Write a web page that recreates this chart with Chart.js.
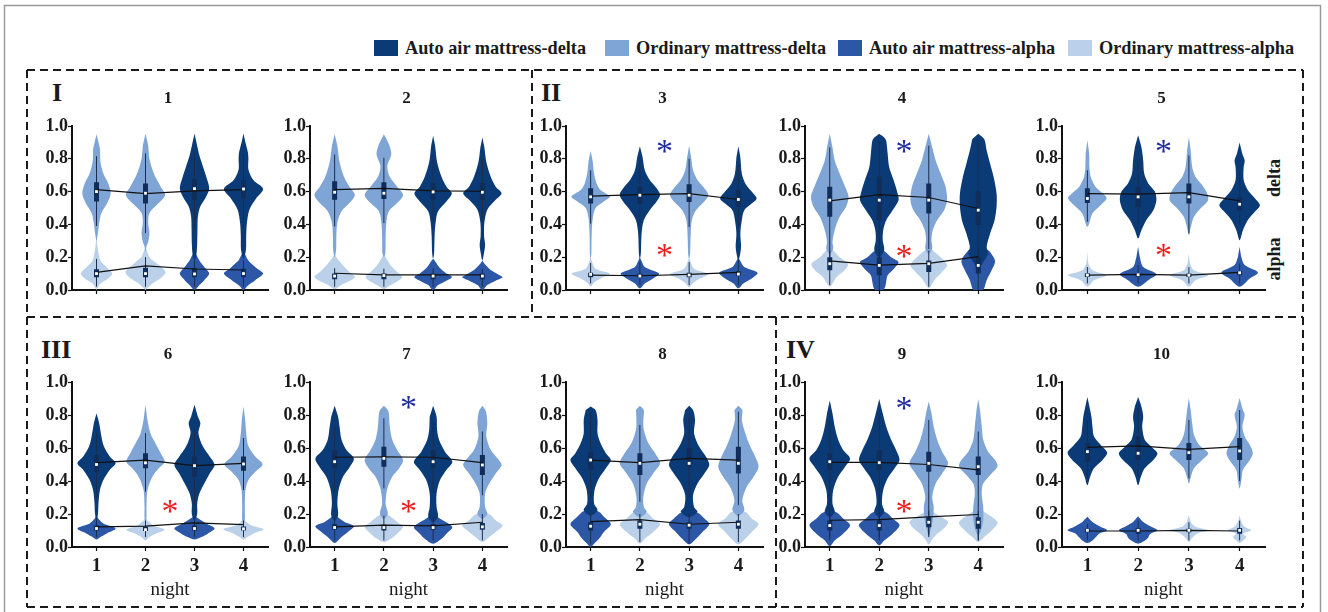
<!DOCTYPE html>
<html><head><meta charset="utf-8">
<script src="https://cdn.jsdelivr.net/npm/chart.js@4.4.1/dist/chart.umd.min.js"></script>
<style>
html,body{margin:0;padding:0;background:#fff;}
body{width:1328px;height:612px;overflow:hidden;position:relative;font-family:'Liberation Serif','Times New Roman',serif;color:#1a1a1a;}
.abs{position:absolute;}
.lg{position:absolute;top:40px;height:16px;display:flex;align-items:center;font-weight:bold;font-size:18.3px;white-space:nowrap;}
.sw{display:inline-block;width:24px;height:16px;margin-right:7px;flex:none;}
.rn{position:absolute;font-weight:bold;font-size:26px;line-height:26px;}
.side{position:absolute;font-weight:bold;font-size:18px;line-height:18px;transform:translate(-50%,-50%) rotate(-90deg);}
</style></head>
<body>
<svg class="abs" style="left:0;top:0" width="1328" height="612">
  <rect x="4.5" y="5.5" width="1316" height="700" fill="none" stroke="#9a9a9a" stroke-width="1.5"/>
  <g stroke="#1a1a1a" stroke-width="2" stroke-dasharray="8 5" fill="none">
    <line x1="27" y1="70" x2="1303" y2="70"/>
    <line x1="27" y1="70" x2="27" y2="607"/>
    <line x1="1303" y1="70" x2="1303" y2="607"/>
    <line x1="27" y1="607" x2="1303" y2="607"/>
    <line x1="27" y1="317" x2="1303" y2="317"/>
    <line x1="532" y1="70" x2="532" y2="317"/>
    <line x1="776" y1="317" x2="776" y2="607"/>
  </g>
</svg>
<script>
// ---------------- DATA ----------------
const nights = [1, 2, 3, 4];
const panelTitles = ['1','2','3','4','5','6','7','8','9','10'];
const groupLabels = ['I','II','III','IV'];
const sideLabels = ['delta','alpha'];
const legendLabels = ['Auto air mattress-delta','Ordinary mattress-delta','Auto air mattress-alpha','Ordinary mattress-alpha'];
const yTicks = [0, 0.2, 0.4, 0.6, 0.8, 1.0];
// A = auto air mattress, O = ordinary mattress, per night
const mattressOrder = ['OOAA','OOAA','OAOA','OAOA','OAOA','AOAO','AOAO','AOAO','AAOO','AAOO'];

const meanDelta = [
  [.612,.588,.605,.612],[.612,.62,.604,.602],[.572,.582,.588,.552],[.544,.582,.564,.497],[.588,.584,.594,.544],
  [.511,.527,.493,.507],[.544,.546,.544,.511],[.527,.511,.537,.527],[.513,.513,.50,.467],[.604,.613,.592,.608]
];
const meanAlpha = [
  [.108,.147,.128,.122],[.102,.092,.092,.092],[.091,.087,.095,.107],[.178,.152,.162,.203],[.091,.095,.091,.107],
  [.122,.126,.146,.136],[.122,.132,.128,.15],[.154,.166,.138,.15],[.162,.166,.183,.197],[.097,.097,.101,.097]
];
// [whisker low, q1, median, q3, whisker high]
const boxDelta = [
  [[.39,.54,.60,.657,.816],[.347,.527,.59,.649,.833],[.37,.551,.618,.678,.83],[.38,.561,.616,.669,.83]],
  [[.388,.551,.596,.663,.826],[.408,.555,.59,.657,.806],[.41,.551,.598,.653,.80],[.41,.551,.596,.653,.80]],
  [[.405,.527,.568,.62,.73],[.385,.527,.578,.63,.79],[.385,.537,.578,.645,.80],[.39,.507,.552,.608,.76]],
  [[.18,.446,.548,.63,.87],[.1,.426,.548,.69,.91],[.25,.467,.548,.65,.88],[.1,.396,.487,.6,.93]],
  [[.416,.53,.558,.62,.73],[.40,.507,.568,.63,.80],[.345,.527,.568,.65,.82],[.40,.487,.523,.568,.72]],
  [[.3,.456,.5,.558,.69],[.335,.477,.51,.568,.69],[.25,.426,.493,.548,.71],[.345,.462,.503,.548,.66]],
  [[.33,.477,.517,.588,.73],[.355,.487,.537,.608,.78],[.33,.477,.517,.588,.75],[.314,.436,.497,.558,.70]],
  [[.3,.467,.527,.578,.82],[.274,.436,.507,.568,.74],[.3,.487,.507,.598,.8],[.254,.446,.507,.608,.82]],
  [[.06,.467,.517,.568,.77],[.06,.467,.511,.588,.80],[.07,.456,.507,.578,.77],[.04,.436,.487,.548,.70]],
  [[.426,.517,.578,.63,.77],[.43,.527,.568,.67,.85],[.416,.527,.572,.63,.77],[.40,.527,.582,.66,.83]]
];
const boxAlpha = [
  [[.02,.078,.10,.127,.19],[.02,.078,.10,.135,.2],[.02,.078,.098,.133,.18],[.02,.078,.10,.13,.18]],
  [[.02,.065,.085,.10,.133],[.02,.065,.088,.10,.13],[.02,.065,.085,.10,.13],[.02,.065,.085,.10,.13]],
  [[.04,.077,.095,.105,.165],[.03,.075,.085,.10,.17],[.03,.077,.091,.105,.17],[.03,.085,.097,.115,.18]],
  [[.03,.12,.16,.2,.24],[.0,.09,.15,.2,.24],[.02,.11,.16,.18,.24],[.0,.1,.15,.2,.25]],
  [[.04,.08,.091,.102,.14],[.04,.08,.093,.10,.15],[.04,.08,.09,.10,.14],[.04,.09,.105,.115,.16]],
  [[.06,.10,.112,.13,.17],[.06,.097,.105,.122,.16],[.06,.10,.112,.13,.17],[.06,.10,.11,.125,.16]],
  [[.04,.105,.118,.14,.18],[.04,.1,.118,.135,.19],[.04,.105,.118,.14,.18],[.04,.105,.122,.145,.2]],
  [[.02,.1,.126,.15,.2],[.03,.11,.138,.16,.2],[.02,.11,.132,.15,.2],[.03,.11,.138,.16,.2]],
  [[.04,.1,.13,.16,.2],[.04,.1,.13,.16,.2],[.06,.12,.15,.18,.22],[.04,.11,.15,.18,.22]],
  [[.04,.09,.101,.11,.14],[.04,.08,.101,.115,.16],[.04,.09,.101,.11,.15],[.04,.08,.101,.115,.16]]
];
// violin outlines: [value, half-width in night units], top to bottom
const violinDelta = [
 [
  [[.95,0],[.86,.07],[.78,.08],[.71,.14],[.65,.24],[.59,.29],[.53,.22],[.47,.10],[.41,.055],[.35,.03],[.30,0]],
  [[.955,0],[.88,.055],[.80,.08],[.71,.17],[.63,.31],[.58,.40],[.53,.27],[.47,.08],[.41,.055],[.35,.08],[.30,.06],[.265,.02],[.235,0]],
  [[.955,0],[.9,.04],[.82,.1],[.755,.17],[.69,.24],[.62,.30],[.57,.24],[.51,.12],[.45,.07],[.37,.06],[.285,.055],[.22,.04],[.18,0]],
  [[.955,0],[.9,.04],[.84,.09],[.8,.1],[.735,.1],[.67,.2],[.616,.4],[.56,.26],[.49,.12],[.41,.07],[.33,.055],[.245,.05],[.19,0]]
 ],
 [
  [[.95,0],[.88,.055],[.78,.1],[.69,.19],[.63,.3],[.58,.41],[.53,.3],[.48,.14],[.41,.055],[.33,.035],[.245,.03],[.2,0]],
  [[.95,0],[.89,.1],[.83,.15],[.755,.07],[.69,.12],[.63,.27],[.58,.39],[.53,.27],[.48,.1],[.41,.05],[.31,.035],[.225,.03],[.2,0]],
  [[.94,0],[.88,.04],[.78,.08],[.69,.17],[.63,.27],[.59,.38],[.54,.27],[.48,.1],[.41,.05],[.33,.03],[.225,.02],[.19,0]],
  [[.93,0],[.87,.04],[.78,.08],[.69,.17],[.63,.27],[.59,.39],[.55,.27],[.49,.1],[.41,.04],[.33,.035],[.275,.055],[.22,.03],[.18,0]]
 ],
 [
  [[.848,0],[.79,.04],[.71,.07],[.65,.12],[.61,.2],[.57,.39],[.54,.27],[.5,.1],[.43,.04],[.325,.02],[.223,.015],[.19,0]],
  [[.876,0],[.81,.055],[.73,.1],[.67,.2],[.62,.34],[.58,.41],[.54,.34],[.487,.2],[.426,.08],[.345,.035],[.223,.02],[.19,0]],
  [[.88,0],[.81,.04],[.73,.08],[.67,.17],[.62,.31],[.58,.39],[.54,.31],[.487,.14],[.426,.055],[.325,.03],[.223,.02],[.19,0]],
  [[.876,0],[.81,.04],[.71,.07],[.65,.14],[.6,.27],[.558,.37],[.527,.27],[.487,.12],[.426,.07],[.345,.04],[.264,.055],[.21,.03],[.18,0]]
 ],
 [
  [[.953,0],[.87,.055],[.79,.1],[.71,.2],[.63,.31],[.57,.38],[.507,.33],[.446,.2],[.365,.1],[.294,.055],[.253,.07],[.22,0]],
  [[.953,0],[.93,.1],[.91,.14],[.83,.17],[.75,.2],[.67,.29],[.59,.37],[.548,.39],[.487,.27],[.426,.14],[.365,.08],[.304,.07],[.243,.1],[.2,0]],
  [[.953,0],[.87,.07],[.79,.14],[.71,.24],[.63,.34],[.548,.37],[.487,.31],[.426,.17],[.365,.08],[.304,.055],[.253,.07],[.22,0]],
  [[.953,0],[.92,.12],[.85,.17],[.77,.24],[.69,.31],[.59,.37],[.507,.37],[.426,.33],[.345,.24],[.264,.17],[.223,.2],[.17,.1],[.12,0]]
 ],
 [
  [[.913,0],[.83,.035],[.75,.04],[.69,.065],[.63,.16],[.59,.3],[.56,.38],[.517,.26],[.467,.1],[.406,.035],[.385,0]],
  [[.943,0],[.87,.065],[.79,.1],[.71,.12],[.65,.2],[.6,.33],[.548,.36],[.487,.3],[.426,.16],[.365,.065],[.314,0]],
  [[.933,0],[.85,.035],[.75,.065],[.69,.13],[.64,.26],[.59,.36],[.548,.38],[.507,.26],[.446,.1],[.385,.04],[.335,0]],
  [[.9,0],[.83,.055],[.79,.1],[.75,.08],[.67,.08],[.61,.16],[.56,.3],[.517,.4],[.477,.3],[.426,.16],[.365,.065],[.304,0]]
 ],
 [
  [[.81,0],[.75,.055],[.67,.1],[.61,.15],[.548,.27],[.507,.39],[.467,.27],[.406,.14],[.345,.07],[.264,.04],[.2,.03],[.16,0]],
  [[.862,0],[.77,.04],[.69,.1],[.63,.2],[.568,.31],[.517,.39],[.477,.27],[.426,.14],[.345,.04],[.243,.02],[.18,.02],[.15,0]],
  [[.862,0],[.79,.07],[.75,.12],[.69,.08],[.61,.17],[.548,.31],[.497,.41],[.446,.31],[.385,.2],[.325,.1],[.264,.055],[.2,.055],[.16,0]],
  [[.852,0],[.77,.035],[.69,.055],[.61,.1],[.548,.24],[.5,.39],[.456,.24],[.406,.1],[.345,.04],[.243,.027],[.162,.027],[.14,0]]
 ],
 [
  [[.856,0],[.79,.07],[.73,.1],[.65,.14],[.588,.24],[.537,.39],[.487,.31],[.426,.17],[.345,.08],[.264,.055],[.193,.07],[.16,0]],
  [[.856,0],[.83,.08],[.81,.1],[.73,.12],[.65,.17],[.588,.27],[.527,.39],[.477,.31],[.426,.17],[.355,.07],[.264,.035],[.2,.08],[.17,0]],
  [[.856,0],[.79,.07],[.71,.08],[.65,.12],[.578,.24],[.517,.39],[.467,.27],[.406,.14],[.325,.07],[.243,.07],[.183,.1],[.15,0]],
  [[.856,0],[.83,.06],[.81,.08],[.75,.1],[.67,.08],[.588,.17],[.537,.31],[.497,.39],[.446,.27],[.385,.14],[.325,.055],[.243,.055],[.2,.1],[.17,0]]
 ],
 [
  [[.852,0],[.83,.1],[.77,.14],[.69,.14],[.63,.2],[.568,.31],[.527,.41],[.477,.31],[.416,.17],[.345,.08],[.264,.07],[.223,.14],[.19,0]],
  [[.856,0],[.83,.08],[.77,.07],[.71,.08],[.63,.17],[.568,.31],[.507,.41],[.446,.27],[.385,.14],[.304,.07],[.243,.08],[.213,.14],[.18,0]],
  [[.856,0],[.83,.08],[.77,.12],[.69,.1],[.61,.2],[.548,.34],[.497,.41],[.446,.31],[.385,.17],[.314,.08],[.243,.1],[.213,.17],[.18,0]],
  [[.856,0],[.83,.08],[.77,.07],[.69,.14],[.61,.24],[.548,.34],[.487,.41],[.426,.31],[.365,.17],[.284,.08],[.223,.12],[.19,0]]
 ],
 [
  [[.888,0],[.81,.055],[.73,.1],[.65,.17],[.588,.27],[.537,.41],[.487,.31],[.426,.17],[.345,.07],[.264,.055],[.213,.1],[.18,0]],
  [[.897,0],[.81,.07],[.73,.14],[.65,.24],[.588,.34],[.527,.41],[.477,.31],[.416,.17],[.345,.08],[.264,.055],[.213,.1],[.18,0]],
  [[.882,0],[.81,.055],[.73,.1],[.65,.17],[.578,.27],[.507,.39],[.446,.27],[.385,.14],[.304,.07],[.243,.1],[.162,.08],[.1,.035],[.07,0]],
  [[.897,0],[.83,.035],[.73,.07],[.65,.1],[.578,.2],[.527,.34],[.49,.39],[.446,.27],[.385,.1],[.325,.07],[.243,.1],[.162,.1],[.1,.055],[.07,0]]
 ],
 [
  [[.909,0],[.852,.04],[.79,.08],[.73,.1],[.67,.13],[.62,.26],[.572,.39],[.527,.3],[.477,.13],[.426,.055],[.375,0]],
  [[.909,0],[.852,.065],[.79,.1],[.73,.08],[.65,.13],[.608,.26],[.568,.38],[.527,.3],[.477,.13],[.426,.055],[.375,0]],
  [[.903,0],[.83,.035],[.75,.065],[.68,.1],[.62,.2],[.568,.38],[.527,.26],[.477,.1],[.426,.04],[.385,0]],
  [[.903,0],[.83,.065],[.8,.1],[.73,.055],[.67,.1],[.62,.2],[.568,.26],[.527,.2],[.467,.065],[.406,.035],[.355,0]]
 ]
];
const violinAlpha = [
 [
  [[.32,0],[.245,.03],[.18,.08],[.14,.2],[.10,.32],[.07,.24],[.04,.08],[.01,.02],[0,0]],
  [[.265,0],[.2,.08],[.16,.24],[.11,.41],[.07,.3],[.04,.14],[.01,.03],[0,0]],
  [[.24,0],[.18,.1],[.14,.2],[.10,.30],[.06,.2],[.03,.1],[0,0]],
  [[.24,0],[.18,.1],[.133,.27],[.10,.40],[.06,.24],[.025,.08],[0,0]]
 ],
 [
  [[.22,0],[.2,.035],[.15,.17],[.11,.3],[.08,.41],[.05,.27],[.025,.1],[.005,0]],
  [[.22,0],[.2,.035],[.15,.14],[.11,.27],[.08,.37],[.05,.26],[.02,.08],[.005,0]],
  [[.19,0],[.18,.03],[.14,.12],[.1,.27],[.08,.38],[.057,.27],[.03,.1],[0,0]],
  [[.18,0],[.163,.035],[.122,.17],[.092,.34],[.078,.41],[.057,.27],[.03,.1],[0,0]]
 ],
 [
  [[.2,0],[.18,.02],[.13,.1],[.1,.39],[.07,.2],[.045,.07],[.02,0]],
  [[.2,0],[.18,.03],[.14,.1],[.1,.39],[.07,.27],[.04,.1],[.01,0]],
  [[.2,0],[.18,.02],[.13,.1],[.097,.39],[.067,.2],[.04,.07],[.015,0]],
  [[.2,0],[.18,.035],[.14,.12],[.105,.39],[.07,.27],[.04,.1],[.01,0]]
 ],
 [
  [[.26,0],[.243,.07],[.2,.2],[.16,.37],[.12,.3],[.08,.14],[.04,.055],[.02,0]],
  [[.25,0],[.233,.12],[.2,.24],[.17,.39],[.13,.3],[.09,.17],[.05,.14],[.02,.12],[0,.08],[0,0]],
  [[.26,0],[.243,.08],[.2,.24],[.152,.37],[.11,.27],[.07,.14],[.03,.055],[.01,0]],
  [[.26,0],[.243,.2],[.2,.31],[.17,.34],[.12,.27],[.06,.17],[0,.1],[0,0]]
 ],
 [
  [[.233,0],[.162,.02],[.12,.1],[.09,.38],[.06,.13],[.02,0]],
  [[.264,0],[.2,.035],[.14,.1],[.097,.36],[.06,.2],[.02,0]],
  [[.223,0],[.162,.025],[.12,.1],[.09,.38],[.06,.13],[.02,0]],
  [[.264,0],[.2,.035],[.152,.1],[.107,.36],[.07,.2],[.02,0]]
 ],
 [
  [[.19,0],[.172,.035],[.142,.14],[.112,.39],[.081,.2],[.06,.08],[.045,0]],
  [[.18,0],[.162,.035],[.13,.17],[.105,.39],[.081,.2],[.06,.08],[.04,0]],
  [[.19,0],[.172,.08],[.142,.24],[.112,.41],[.081,.27],[.06,.14],[.045,0]],
  [[.17,0],[.152,.055],[.13,.17],[.107,.41],[.081,.2],[.06,.08],[.045,0]]
 ],
 [
  [[.2,0],[.172,.1],[.152,.2],[.126,.39],[.091,.27],[.06,.14],[.04,.07],[.024,0]],
  [[.21,0],[.183,.14],[.152,.27],[.122,.39],[.081,.27],[.05,.14],[.03,0]],
  [[.2,0],[.166,.17],[.142,.31],[.118,.39],[.081,.27],[.05,.17],[.02,0]],
  [[.22,0],[.193,.17],[.162,.27],[.13,.41],[.091,.27],[.06,.14],[.03,0]]
 ],
 [
  [[.23,0],[.213,.17],[.183,.27],[.138,.41],[.091,.27],[.05,.17],[.02,.07],[0,0]],
  [[.23,0],[.203,.17],[.172,.27],[.138,.41],[.091,.27],[.05,.1],[.02,0]],
  [[.23,0],[.203,.2],[.172,.31],[.138,.41],[.091,.27],[.05,.14],[.016,0]],
  [[.23,0],[.207,.17],[.172,.27],[.138,.41],[.091,.27],[.05,.14],[.016,0]]
 ],
 [
  [[.23,0],[.203,.17],[.172,.27],[.132,.41],[.081,.27],[.04,.1],[.005,0]],
  [[.23,0],[.203,.17],[.172,.27],[.132,.41],[.081,.27],[.04,.1],[.01,0]],
  [[.23,0],[.213,.08],[.183,.24],[.152,.39],[.112,.3],[.071,.14],[.04,.055],[.015,0]],
  [[.24,0],[.223,.07],[.183,.27],[.146,.39],[.1,.27],[.06,.12],[.03,0]]
 ],
 [
  [[.183,0],[.152,.1],[.122,.26],[.101,.39],[.081,.23],[.061,.17],[.04,.1],[.024,0]],
  [[.187,0],[.152,.1],[.122,.26],[.101,.38],[.077,.23],[.057,.2],[.036,.12],[.02,0]],
  [[.193,0],[.152,.04],[.122,.13],[.101,.38],[.081,.16],[.05,.05],[.03,0]],
  [[.193,0],[.152,.035],[.122,.1],[.101,.23],[.081,.07],[.061,.13],[.04,.065],[.024,0]]
 ]
];
// significance asterisks (value on y axis, drawn between nights 2 and 3)
const starX = 2.5;
const starBlue = [null,null,.877,.877,.877,null,.88,null,.875,null];
const starRed  = [null,null,.245,.24,.245,.25,.25,null,.25,null];

// ---------------- STYLE / LAYOUT ----------------
const COL = {Ad:'#0b3b76', Od:'#7fa4d6', Aa:'#2b57a6', Oa:'#bad1e9'};
const legendColors = [COL.Ad, COL.Od, COL.Aa, COL.Oa];
const SERIF = "'Liberation Serif','Times New Roman',serif";
const colLeft = [72, 310, 566, 805, 1062];
const colWidth = [196, 197, 197, 198, 203];
const rowTop = [126, 382];
const rowH = [164, 165];

// legend
const legendX = [374, 605, 838, 1068];
legendLabels.forEach((t, i) => {
  const d = document.createElement('div');
  d.className = 'lg'; d.style.left = legendX[i] + 'px';
  d.innerHTML = '<span class="sw" style="background:' + legendColors[i] + '"></span>';
  d.appendChild(document.createTextNode(t));
  document.body.appendChild(d);
});
// group numerals
const groupPos = [[52, 80], [541, 80], [41, 337], [786, 337]];
groupLabels.forEach((t, i) => {
  const d = document.createElement('div');
  d.className = 'rn'; d.textContent = t;
  d.style.left = groupPos[i][0] + 'px'; d.style.top = groupPos[i][1] + 'px';
  document.body.appendChild(d);
});
// delta / alpha side labels
const sidePos = [[1274, 178], [1274, 259]];
sideLabels.forEach((t, i) => {
  const d = document.createElement('div');
  d.className = 'side'; d.textContent = t;
  d.style.left = sidePos[i][0] + 'px'; d.style.top = sidePos[i][1] + 'px';
  document.body.appendChild(d);
});

function violinPoints(center, prof) {
  const right = prof.map(([y, w]) => ({x: center + w, y}));
  const left = prof.slice(1, -1).reverse().map(([y, w]) => ({x: center - w, y}));
  return right.concat(left);
}
function segPoints(boxes, a, b) {
  const pts = [];
  boxes.forEach((bx, i) => {
    pts.push({x: nights[i], y: bx[a]}, {x: nights[i], y: bx[b]}, {x: nights[i], y: null});
  });
  return pts;
}

const decor = {
  id: 'decor',
  afterDraw(chart) {
    const p = chart.$panel;
    const {ctx, chartArea: a, scales: {x, y}} = chart;
    ctx.save();
    ctx.fillStyle = '#1a1a1a';
    ctx.font = 'bold 17px ' + SERIF;
    ctx.textAlign = 'center';
    ctx.textBaseline = 'middle';
    ctx.fillText(panelTitles[p], (a.left + a.right) / 2 - 2, a.top - 27);
    const fs = 34;
    ctx.font = fs + 'px ' + SERIF;
    ctx.textBaseline = 'alphabetic';
    if (starBlue[p] !== null) {
      ctx.fillStyle = '#1f2a9c';
      ctx.fillText('*', x.getPixelForValue(starX), y.getPixelForValue(starBlue[p]) + fs * 0.47);
    }
    if (starRed[p] !== null) {
      ctx.fillStyle = '#f01c1c';
      ctx.fillText('*', x.getPixelForValue(starX), y.getPixelForValue(starRed[p]) + fs * 0.47);
    }
    ctx.restore();
  }
};

for (let p = 0; p < 10; p++) {
  const row = p < 5 ? 0 : 1, col = p % 5;
  const L = colLeft[col], T = rowTop[row], PW = colWidth[col], PH = rowH[row];
  const XH = row ? 63 : 14;
  const padL = 6, yW = 54, padT = 40, padR = 12;
  const W = padL + yW + PW + padR, H = padT + PH + XH;
  const cv = document.createElement('canvas');
  cv.width = W; cv.height = H;
  cv.style.cssText = 'position:absolute;left:' + (L - padL - yW) + 'px;top:' + (T - padT) + 'px;width:' + W + 'px;height:' + H + 'px';
  document.body.appendChild(cv);

  const datasets = [];
  nights.forEach((c, n) => {
    const auto = mattressOrder[p][n] === 'A';
    datasets.push({data: violinPoints(c, violinAlpha[p][n]), backgroundColor: auto ? COL.Aa : COL.Oa,
      fill: 'shape', borderWidth: 0, pointRadius: 0, tension: 0.3, order: 6});
    datasets.push({data: violinPoints(c, violinDelta[p][n]), backgroundColor: auto ? COL.Ad : COL.Od,
      fill: 'shape', borderWidth: 0, pointRadius: 0, tension: 0.3, order: 5});
  });
  [boxAlpha[p], boxDelta[p]].forEach(bx => {
    datasets.push({data: segPoints(bx, 0, 4), borderColor: '#1b2d4d', borderWidth: 1, pointRadius: 0, spanGaps: false, fill: false, order: 4});
    datasets.push({data: segPoints(bx, 1, 3), borderColor: '#112d5a', borderWidth: 5, borderCapStyle: 'butt', pointRadius: 0, spanGaps: false, fill: false, order: 3});
    datasets.push({data: bx.map((b, i) => ({x: nights[i], y: b[2]})), showLine: false, pointStyle: 'rect', pointRadius: 2,
      pointBackgroundColor: '#ffffff', pointBorderWidth: 0, order: 1});
  });
  datasets.push({data: nights.map((x, i) => ({x, y: meanDelta[p][i]})), borderColor: '#111', borderWidth: 1.2, pointRadius: 0, fill: false, order: 2});
  datasets.push({data: nights.map((x, i) => ({x, y: meanAlpha[p][i]})), borderColor: '#111', borderWidth: 1.2, pointRadius: 0, fill: false, order: 2});

  const chart = new Chart(cv, {
    type: 'line',
    data: {datasets},
    plugins: [decor],
    options: {
      responsive: false, animation: false, events: [],
      layout: {padding: {left: padL, top: padT, right: padR, bottom: 0}},
      plugins: {legend: {display: false}, tooltip: {enabled: false}, title: {display: false}},
      scales: {
        x: {
          type: 'linear', min: 0.5, max: 4.5,
          afterBuildTicks: s => { s.ticks = nights.map(v => ({value: v})); },
          afterFit: s => { s.height = XH; },
          ticks: {display: row === 1, color: '#1a1a1a', padding: 4, font: {family: SERIF, size: 19, weight: 'bold'}, callback: v => String(v)},
          grid: {display: true, drawOnChartArea: false, drawTicks: true, tickLength: 4, tickColor: '#111', tickWidth: 1.2},
          border: {display: true, color: '#111', width: 2},
          title: {display: row === 1, text: 'night', color: '#1a1a1a', font: {family: SERIF, size: 19}, padding: {top: 0, bottom: 9}}
        },
        y: {
          type: 'linear', min: 0, max: 1,
          afterBuildTicks: s => { s.ticks = yTicks.map(v => ({value: v})); },
          afterFit: s => { s.width = yW; },
          ticks: {color: '#1a1a1a', padding: 0, font: {family: SERIF, size: 18, weight: 'bold'}, callback: v => v.toFixed(1)},
          grid: {display: true, drawOnChartArea: false, drawTicks: true, tickLength: 4, tickColor: '#111', tickWidth: 1.2},
          border: {display: true, color: '#111', width: 2}
        }
      }
    }
  });
  chart.$panel = p;
  chart.draw();
}
</script>
</body></html>
